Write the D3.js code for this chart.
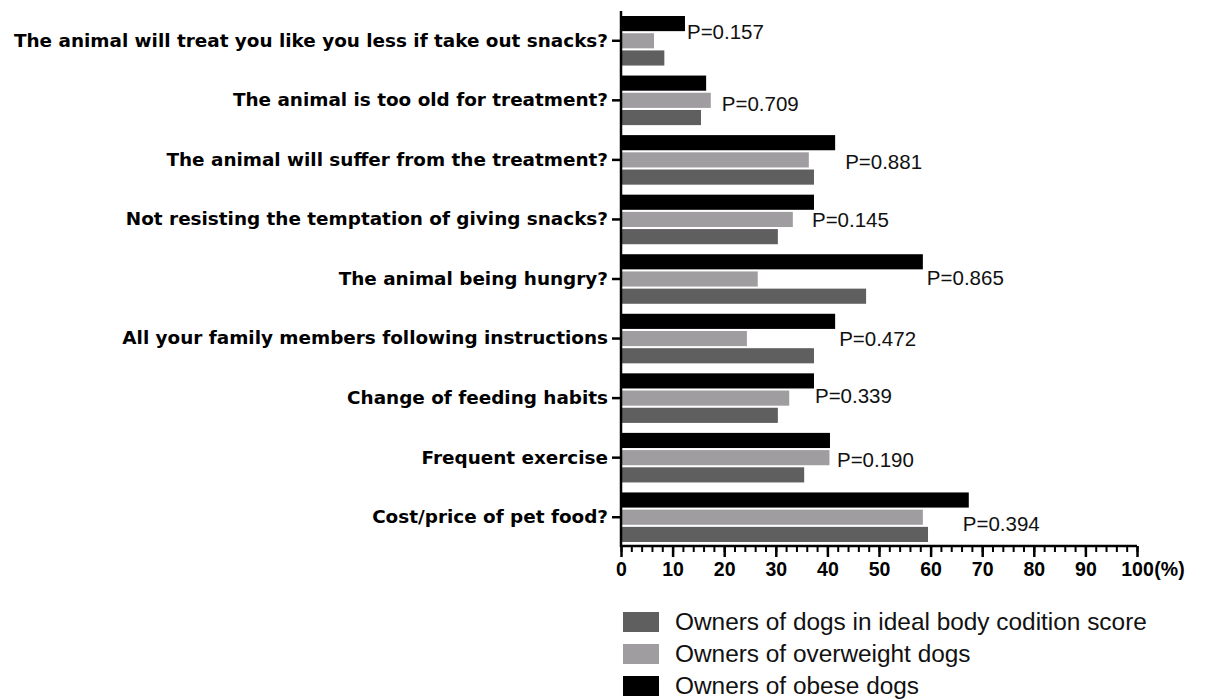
<!DOCTYPE html>
<html>
<head>
<meta charset="utf-8">
<script src="https://cdn.jsdelivr.net/npm/d3@7"></script>
<style>
  html, body { margin: 0; padding: 0; background: #fff; }
  svg { display: block; }
</style>
</head>
<body>
<svg id="chart" width="1214" height="700"></svg>
<script>
// Survey questions (top to bottom)
const categories = [
  "The animal will treat you like you less if take out snacks?",
  "The animal is too old for treatment?",
  "The animal will suffer from the treatment?",
  "Not resisting the temptation of giving snacks?",
  "The animal being hungry?",
  "All your family members following instructions",
  "Change of feeding habits",
  "Frequent exercise",
  "Cost/price of pet food?"
];

// Percentage of owners per group
const idealValues      = [8.4, 15.5, 37.4, 30.4, 47.5, 37.4, 30.4, 35.5, 59.5];
const overweightValues = [6.4, 17.4, 36.4, 33.3, 26.5, 24.4, 32.6, 40.4, 58.5];
const obeseValues      = [12.4, 16.5, 41.5, 37.4, 58.5, 41.5, 37.4, 40.5, 67.4];

// P-values of the group comparison for each question
const pValues = ["0.157", "0.709", "0.881", "0.145", "0.865", "0.472", "0.339", "0.190", "0.394"];

const seriesNames = [
  "Owners of dogs in ideal body codition score",
  "Owners of overweight dogs",
  "Owners of obese dogs"
];

const xTicks = [0, 10, 20, 30, 40, 50, 60, 70, 80, 90, 100];

// ---- styling / layout ----
const colors = { ideal: "#5f5f5f", overweight: "#9f9da0", obese: "#000000" };
const seriesList = [
  { key: "obese", values: obeseValues, name: seriesNames[2] },
  { key: "overweight", values: overweightValues, name: seriesNames[1] },
  { key: "ideal", values: idealValues, name: seriesNames[0] }
];

const svg = d3.select("#chart");
const plotLeft = 621, plotRight = 1137, plotTop = 11, plotBottom = 547;

const x = d3.scaleLinear().domain([0, 100]).range([plotLeft, plotRight]);
const y = d3.scaleBand().domain(categories).range([plotTop, plotBottom]).padding(0);
const ySub = d3.scaleBand()
  .domain(seriesList.map(s => s.key))
  .range([5, y.bandwidth() - 5])
  .paddingInner(0.12);

// bars
const groups = svg.append("g").selectAll("g")
  .data(categories)
  .join("g")
  .attr("transform", d => `translate(0,${y(d)})`);

groups.selectAll("rect")
  .data((d, i) => seriesList.map(s => ({ key: s.key, value: s.values[i] })))
  .join("rect")
  .attr("x", x(0))
  .attr("y", d => ySub(d.key))
  .attr("width", d => x(d.value) - x(0))
  .attr("height", ySub.bandwidth())
  .attr("fill", d => colors[d.key]);

// P-value labels placed beside the longest bar of each question
const pNudge = [[2, -9], [11, 3], [10, 2], [-2, 0], [4, -1], [4, 0], [1, -2], [7, 2], [-6, 6]];
svg.append("g").selectAll("text")
  .data(categories)
  .join("text")
  .attr("x", (d, i) => x(Math.max(idealValues[i], overweightValues[i], obeseValues[i])) + pNudge[i][0])
  .attr("y", (d, i) => y(d) + y.bandwidth() / 2 + pNudge[i][1])
  .attr("dy", "0.36em")
  .attr("font-family", "'Liberation Sans', Arial, sans-serif")
  .attr("font-size", 20.5)
  .attr("fill", "#111")
  .text((d, i) => "P=" + pValues[i]);

// y axis
const yAxis = svg.append("g")
  .attr("transform", `translate(${plotLeft},0)`)
  .call(d3.axisLeft(y).tickSize(9).tickPadding(4).tickSizeOuter(0));
yAxis.select(".domain").attr("stroke", "#000").attr("stroke-width", 2.5)
  .attr("d", `M0,${plotTop}V${plotBottom}`);
yAxis.selectAll(".tick line").attr("stroke", "#000").attr("stroke-width", 2.5);
yAxis.selectAll(".tick text")
  .attr("font-family", "'DejaVu Sans', Verdana, sans-serif")
  .attr("font-weight", "bold")
  .attr("font-size", 18.4)
  .attr("fill", "#000");

// x axis: minor ticks every 2 %
const xMinor = svg.append("g")
  .attr("transform", `translate(0,${plotBottom - 1})`)
  .call(d3.axisBottom(x).tickValues(d3.range(0, 101, 2)).tickSize(6).tickFormat(""));
xMinor.select(".domain").remove();
xMinor.selectAll(".tick line").attr("stroke", "#000").attr("stroke-width", 2);

// x axis: major ticks with labels
const xAxis = svg.append("g")
  .attr("transform", `translate(0,${plotBottom - 1})`)
  .call(d3.axisBottom(x).tickValues(xTicks).tickSize(11).tickSizeOuter(0).tickPadding(5));
xAxis.select(".domain").attr("stroke", "#000").attr("stroke-width", 2.5)
  .attr("d", `M${plotLeft},0H${plotRight}`);
xAxis.selectAll(".tick line").attr("stroke", "#000").attr("stroke-width", 2.5);
xAxis.selectAll(".tick text")
  .attr("font-family", "'Liberation Sans', Arial, sans-serif")
  .attr("font-weight", "bold")
  .attr("font-size", 19.5)
  .attr("fill", "#000");

// unit after the last tick label
const lastLabel = xAxis.selectAll(".tick text").filter(d => d === 100).node();
const bb = lastLabel.getBBox();
svg.append("text")
  .attr("x", x(100) + bb.width / 2 + 1)
  .attr("y", plotBottom - 1 + 11 + 5)
  .attr("dy", "0.71em")
  .attr("font-family", "'Liberation Sans', Arial, sans-serif")
  .attr("font-weight", "bold")
  .attr("font-size", 19.5)
  .text("(%)");

// legend
const legendOrder = [
  { key: "ideal", name: seriesNames[0] },
  { key: "overweight", name: seriesNames[1] },
  { key: "obese", name: seriesNames[2] }
];
const legend = svg.append("g").attr("transform", "translate(623,622)");
const rows = legend.selectAll("g")
  .data(legendOrder)
  .join("g")
  .attr("transform", (d, i) => `translate(0,${i * 32})`);
rows.append("rect")
  .attr("x", 0).attr("y", -10)
  .attr("width", 36).attr("height", 20)
  .attr("fill", d => colors[d.key]);
rows.append("text")
  .attr("x", 52).attr("y", 0)
  .attr("dy", "0.34em")
  .attr("font-family", "'Liberation Sans', Arial, sans-serif")
  .attr("font-size", 24.4)
  .attr("fill", "#111")
  .text(d => d.name);
</script>
</body>
</html>
